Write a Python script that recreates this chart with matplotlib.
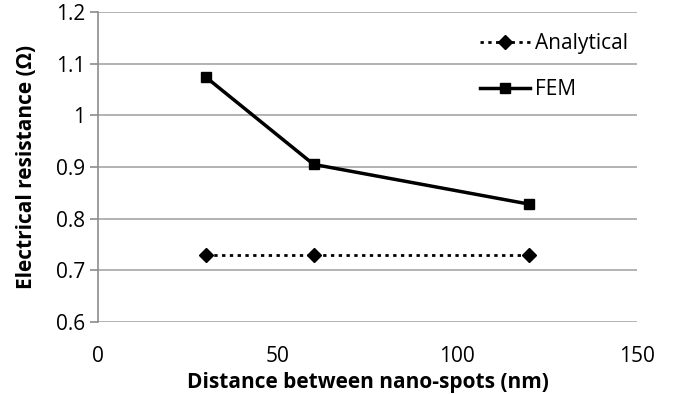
import matplotlib
matplotlib.use("Agg")
import matplotlib.pyplot as plt

x_vals = [30, 60, 120]
analytical = [0.73, 0.73, 0.73]
fem = [1.074, 0.905, 0.828]
x_ticks = [0, 50, 100, 150]
y_ticks = [0.6, 0.7, 0.8, 0.9, 1.0, 1.1, 1.2]
y_ticklabels = ["0.6", "0.7", "0.8", "0.9", "1", "1.1", "1.2"]

plt.rcParams['font.family'] = ['Open Sans', 'DejaVu Sans']
FS = 15

fig = plt.figure(figsize=(6.73, 3.94), dpi=100)
ax = fig.add_axes([0.1456, 0.183, 0.8009, 0.7865])

ax.plot(x_vals, analytical, linestyle=(0, (1.2, 1.6)), color='black', linewidth=2,
        marker='D', markersize=7, label='Analytical')
ax.plot(x_vals, fem, linestyle='-', color='black', linewidth=2.5,
        marker='s', markersize=7, label='FEM')

ax.set_xlim(0, 150)
ax.set_ylim(0.6, 1.2)
ax.set_xticks(x_ticks)
ax.set_xticks([0], minor=True)
ax.set_yticks(y_ticks)
ax.set_yticklabels(y_ticklabels)
ax.yaxis.grid(True, color='#a6a6a6', linewidth=1.2)
ax.set_axisbelow(True)

for s in ['top', 'right', 'bottom']:
    ax.spines[s].set_visible(False)
ax.spines['left'].set_color('#8c8c8c')
ax.spines['left'].set_linewidth(1.2)

ax.tick_params(axis='y', direction='out', length=6, width=1.2, color='#8c8c8c',
               labelsize=FS, pad=3)
ax.tick_params(axis='x', which='major', direction='out', length=0, labelsize=FS, pad=17)
ax.tick_params(axis='x', which='minor', direction='out', length=6, width=1.2,
               color='#8c8c8c')

ax.set_xlabel('Distance between nano-spots (nm)', fontsize=FS, fontweight='bold', labelpad=4)
ax.set_ylabel('Electrical resistance (Ω)', fontsize=FS, fontweight='bold', labelpad=14)

leg = ax.legend(loc='upper right', frameon=False, fontsize=FS, handlelength=2.4,
                labelspacing=1.2, bbox_to_anchor=(1.018, 0.992), handletextpad=0.25)

fig.savefig('out.png', dpi=100)
